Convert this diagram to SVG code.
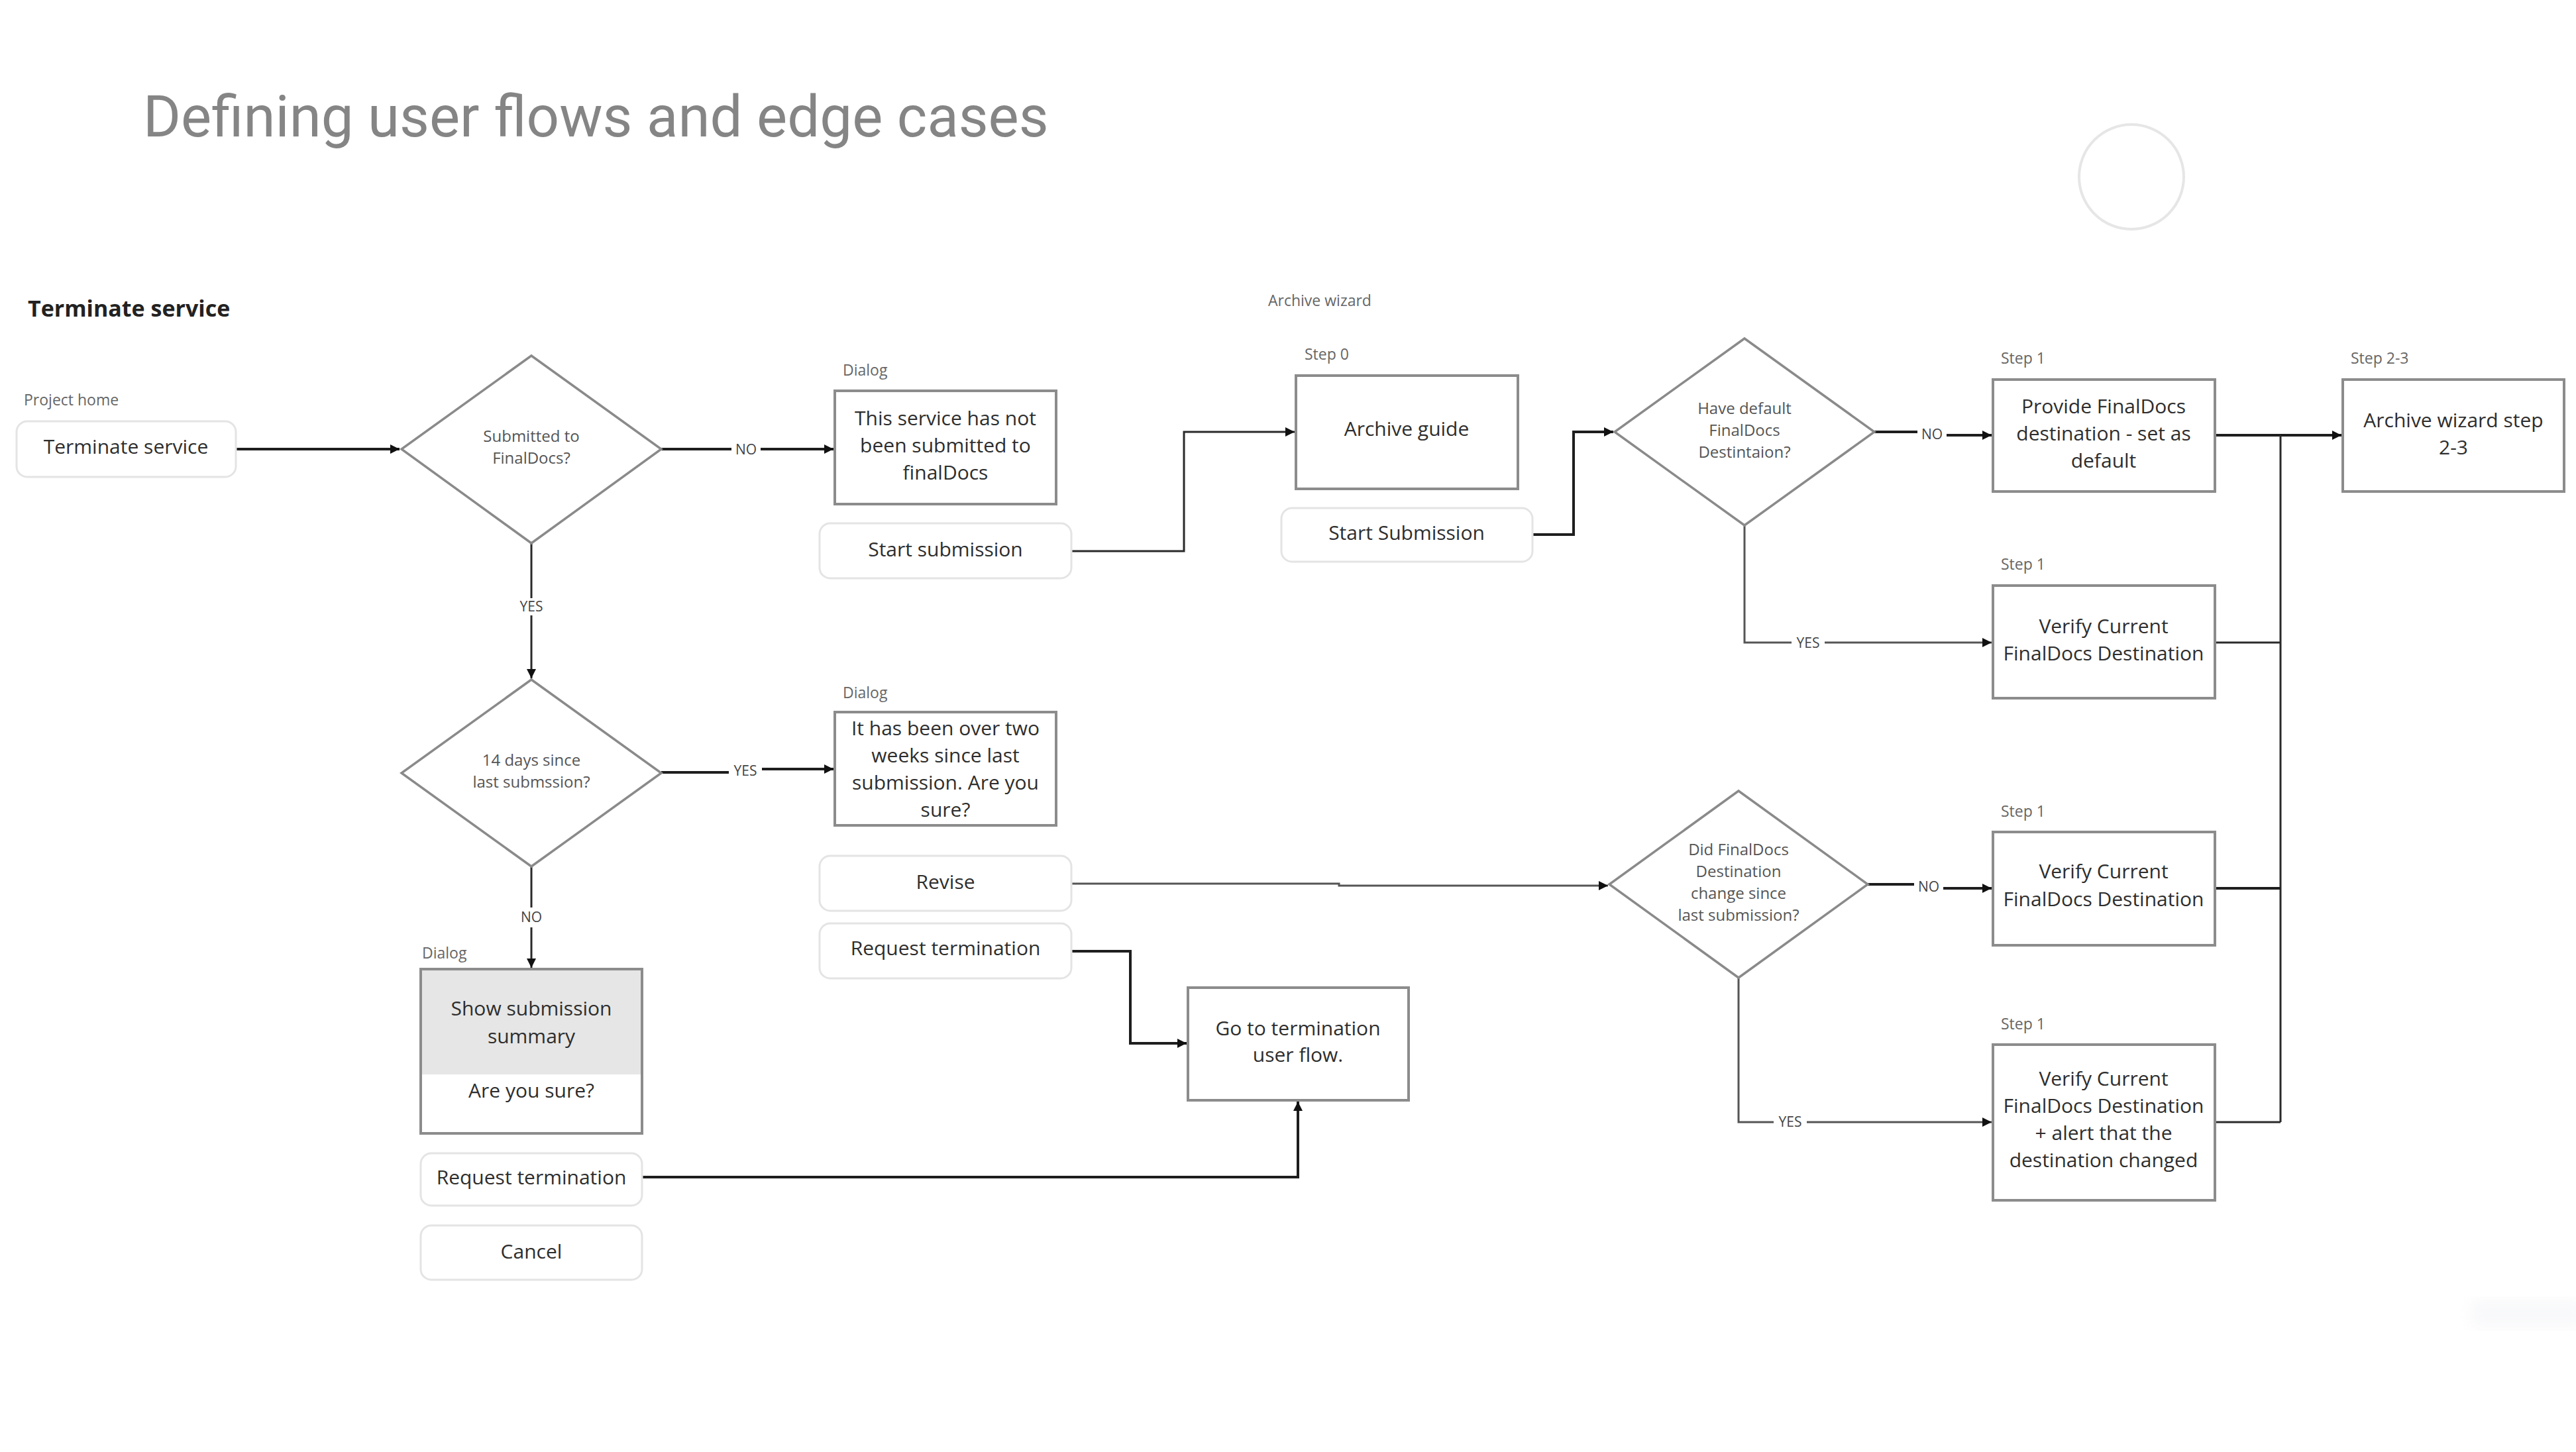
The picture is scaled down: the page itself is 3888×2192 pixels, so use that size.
<svg xmlns="http://www.w3.org/2000/svg" width="3888" height="2192" viewBox="0 0 3888 2192">
<defs>
<style>
.title{font-family:Roboto,"Open Sans","Liberation Sans",sans-serif;font-size:87px;fill:#858585;font-weight:400}
.sec{font-family:"Open Sans","Liberation Sans",sans-serif;font-size:34px;font-weight:700;fill:#222}
.t{font-family:"Open Sans","Liberation Sans",sans-serif;font-size:30px;fill:#2e2e2e;text-anchor:middle}
.d{font-family:"Open Sans","Liberation Sans",sans-serif;font-size:24px;fill:#555;text-anchor:middle}
.lbl{font-family:"Open Sans","Liberation Sans",sans-serif;font-size:23px;fill:#666}
.el{font-family:"Open Sans","Liberation Sans",sans-serif;font-size:21px;fill:#444;text-anchor:middle}
.box{fill:#fff;stroke:#8c8c8c;stroke-width:4}
.btn{fill:#fff;stroke:#e4e4e4;stroke-width:3}
.dia{fill:#fff;stroke:#8a8a8a;stroke-width:3.5}
.c{fill:none;stroke:#1e1e1e;stroke-width:4}
.cm{fill:none;stroke:#2a2a2a;stroke-width:3}
.cg{fill:none;stroke:#555;stroke-width:3}
.bg{fill:#fff}
</style>
<marker id="ah" markerUnits="userSpaceOnUse" markerWidth="16" markerHeight="14" refX="14" refY="7" orient="auto">
<path d="M0,0 L14,7 L0,14 Z" fill="#111"/>
</marker>
<filter id="blur"><feGaussianBlur stdDeviation="10"/></filter>
</defs>
<rect width="3888" height="2192" fill="#fff"/>
<text class="title" x="216" y="206">Defining user flows and edge cases</text>
<circle cx="3217" cy="267" r="79" fill="none" stroke="#e6e6e6" stroke-width="4"/>
<rect x="3730" y="1962" width="170" height="42" fill="#f2f3f6" opacity="0.5" filter="url(#blur)"/>
<text class="sec" x="42" y="478">Terminate service</text>

<g id="connectors">
<path class="c" d="M357,678 H603" marker-end="url(#ah)"/>
<path class="c" d="M997,678 H1258" marker-end="url(#ah)"/>
<path class="cm" d="M1617,832 H1787 V652 H1954" marker-end="url(#ah)"/>
<path class="c" d="M2313,807 H2375 V652 H2435" marker-end="url(#ah)"/>
<path class="c" d="M2829,652 H2916 V657 H3006" marker-end="url(#ah)"/>
<path class="c" d="M3343,657 H3534" marker-end="url(#ah)"/>
<path class="cm" d="M3442,657 V1694"/>
<path class="cg" d="M2633,793 V970 H3006" marker-end="url(#ah)"/>
<path class="cm" d="M3343,970 H3442"/>
<path class="cm" d="M802,820 V1024" marker-end="url(#ah)"/>
<path class="c" d="M998,1166 H1125 V1161 H1258" marker-end="url(#ah)"/>
<path class="cm" d="M802,1308 V1461" marker-end="url(#ah)"/>
<path class="cg" d="M1617,1334 H2021 V1337 H2427" marker-end="url(#ah)"/>
<path class="c" d="M1617,1436 H1706 V1575 H1791" marker-end="url(#ah)"/>
<path class="c" d="M969,1777 H1959 V1663" marker-end="url(#ah)"/>
<path class="c" d="M2819,1335 H2911 V1341 H3006" marker-end="url(#ah)"/>
<path class="cg" d="M2624,1476 V1694 H3006" marker-end="url(#ah)"/>
<path class="c" d="M3343,1341 H3442"/>
<path class="cm" d="M3343,1694 H3442"/>
<rect class="bg" x="1104" y="665" width="44" height="26"/>
<text class="el" x="1126" y="686">NO</text>
<rect class="bg" x="2894" y="642" width="44" height="26"/>
<text class="el" x="2916" y="663">NO</text>
<rect class="bg" x="2704" y="957" width="50" height="26"/>
<text class="el" x="2729" y="978">YES</text>
<rect class="bg" x="777" y="903" width="50" height="26"/>
<text class="el" x="802" y="923">YES</text>
<rect class="bg" x="1100" y="1151" width="50" height="26"/>
<text class="el" x="1125" y="1171">YES</text>
<rect class="bg" x="780" y="1370" width="44" height="30"/>
<text class="el" x="802" y="1392">NO</text>
<rect class="bg" x="2889" y="1325" width="44" height="26"/>
<text class="el" x="2911" y="1346">NO</text>
<rect class="bg" x="2677" y="1681" width="50" height="26"/>
<text class="el" x="2702" y="1701">YES</text>
</g>

<g id="n-terminate">
<text class="lbl" x="36" y="612">Project home</text>
<rect class="btn" x="25" y="636" width="331" height="84" rx="16"/>
<text class="t" x="190" y="685">Terminate service</text>
</g>

<g id="n-d1">
<polygon class="dia" points="802,537 998,678 802,820 606,678"/>
<text class="d" x="802" y="667">Submitted to</text>
<text class="d" x="802" y="700">FinalDocs?</text>
</g>

<g id="n-notsubmitted">
<text class="lbl" x="1272" y="567">Dialog</text>
<rect class="box" x="1260" y="590" width="334" height="171"/>
<text class="t" x="1427" y="642">This service has not</text>
<text class="t" x="1427" y="683">been submitted to</text>
<text class="t" x="1427" y="724">finalDocs</text>
</g>

<g id="n-startsub1">
<rect class="btn" x="1237" y="790" width="380" height="83" rx="16"/>
<text class="t" x="1427" y="840">Start submission</text>
</g>

<g id="n-archiveguide">
<text class="lbl" x="1914" y="462">Archive wizard</text>
<text class="lbl" x="1969" y="543">Step 0</text>
<rect class="box" x="1956" y="567" width="335" height="171"/>
<text class="t" x="2123" y="658">Archive guide</text>
</g>

<g id="n-startsub2">
<rect class="btn" x="1934" y="767" width="379" height="81" rx="16"/>
<text class="t" x="2123" y="815">Start Submission</text>
</g>

<g id="n-d2">
<polygon class="dia" points="2633,511 2829,652 2633,793 2437,652"/>
<text class="d" x="2633" y="625">Have default</text>
<text class="d" x="2633" y="658">FinalDocs</text>
<text class="d" x="2633" y="691">Destintaion?</text>
</g>

<g id="n-provide">
<text class="lbl" x="3020" y="549">Step 1</text>
<rect class="box" x="3008" y="573" width="335" height="169"/>
<text class="t" x="3175" y="624">Provide FinalDocs</text>
<text class="t" x="3175" y="665">destination - set as</text>
<text class="t" x="3175" y="706">default</text>
</g>

<g id="n-step23">
<text class="lbl" x="3548" y="549">Step 2-3</text>
<rect class="box" x="3536" y="573" width="334" height="169"/>
<text class="t" x="3703" y="645">Archive wizard step</text>
<text class="t" x="3703" y="686">2-3</text>
</g>

<g id="n-verify1">
<text class="lbl" x="3020" y="860">Step 1</text>
<rect class="box" x="3008" y="884" width="335" height="170"/>
<text class="t" x="3175" y="956">Verify Current</text>
<text class="t" x="3175" y="997">FinalDocs Destination</text>
</g>

<g id="n-d3">
<polygon class="dia" points="802,1026 998,1167 802,1308 606,1167"/>
<text class="d" x="802" y="1156">14 days since</text>
<text class="d" x="802" y="1189">last submssion?</text>
</g>

<g id="n-twoweeks">
<text class="lbl" x="1272" y="1054">Dialog</text>
<rect class="box" x="1260" y="1075" width="334" height="171"/>
<text class="t" x="1427" y="1110">It has been over two</text>
<text class="t" x="1427" y="1151">weeks since last</text>
<text class="t" x="1427" y="1192">submission. Are you</text>
<text class="t" x="1427" y="1233">sure?</text>
</g>

<g id="n-revise">
<rect class="btn" x="1237" y="1292" width="380" height="83" rx="16"/>
<text class="t" x="1427" y="1342">Revise</text>
</g>

<g id="n-reqterm1">
<rect class="btn" x="1237" y="1394" width="380" height="83" rx="16"/>
<text class="t" x="1427" y="1442">Request termination</text>
</g>

<g id="n-goterm">
<rect class="box" x="1793" y="1491" width="333" height="170"/>
<text class="t" x="1959" y="1563">Go to termination</text>
<text class="t" x="1959" y="1603">user flow.</text>
</g>

<g id="n-summary">
<text class="lbl" x="637" y="1447">Dialog</text>
<rect class="box" x="635" y="1463" width="334" height="248"/>
<rect x="637" y="1465" width="330" height="157" fill="#e6e6e6"/>
<text class="t" x="802" y="1533">Show submission</text>
<text class="t" x="802" y="1575">summary</text>
<text class="t" x="802" y="1657">Are you sure?</text>
</g>

<g id="n-reqterm2">
<rect class="btn" x="635" y="1741" width="334" height="79" rx="16"/>
<text class="t" x="802" y="1788">Request termination</text>
</g>

<g id="n-cancel">
<rect class="btn" x="635" y="1850" width="334" height="82" rx="16"/>
<text class="t" x="802" y="1900">Cancel</text>
</g>

<g id="n-d4">
<polygon class="dia" points="2624,1194 2819,1335 2624,1476 2429,1335"/>
<text class="d" x="2624" y="1291">Did FinalDocs</text>
<text class="d" x="2624" y="1324">Destination</text>
<text class="d" x="2624" y="1357">change since</text>
<text class="d" x="2624" y="1390">last submission?</text>
</g>

<g id="n-verify3">
<text class="lbl" x="3020" y="1233">Step 1</text>
<rect class="box" x="3008" y="1256" width="335" height="171"/>
<text class="t" x="3175" y="1326">Verify Current</text>
<text class="t" x="3175" y="1368">FinalDocs Destination</text>
</g>

<g id="n-verify4">
<text class="lbl" x="3020" y="1554">Step 1</text>
<rect class="box" x="3008" y="1577" width="335" height="235"/>
<text class="t" x="3175" y="1639">Verify Current</text>
<text class="t" x="3175" y="1680">FinalDocs Destination</text>
<text class="t" x="3175" y="1721">+ alert that the</text>
<text class="t" x="3175" y="1762">destination changed</text>
</g>
</svg>
